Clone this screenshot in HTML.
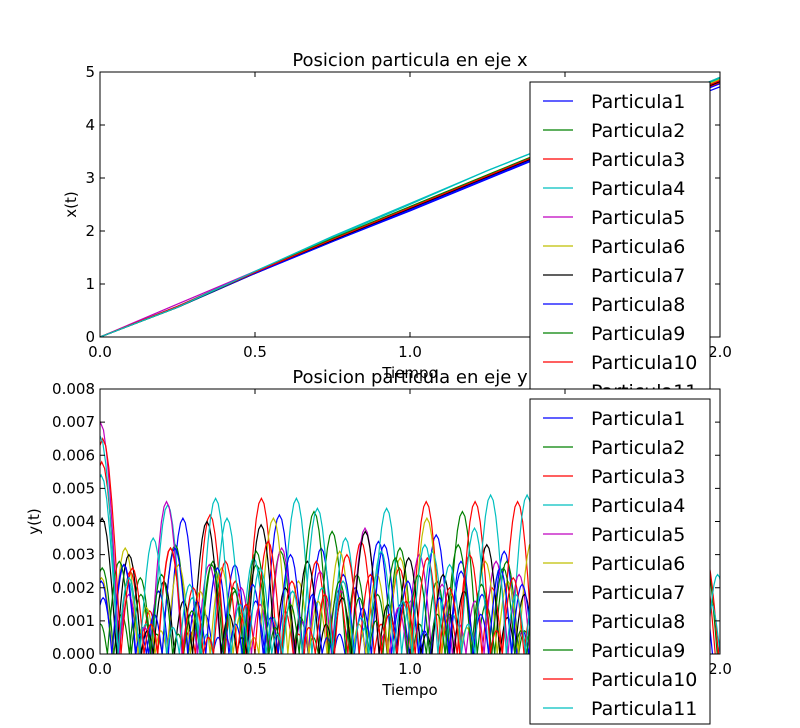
<!DOCTYPE html>
<html><head><meta charset="utf-8">
<style>
body{margin:0;background:#fff;}
svg{display:block;font-family:"DejaVu Sans","Liberation Sans",sans-serif;}
</style></head>
<body>
<svg id="fig" width="800" height="728" viewBox="0 0 800 728">
<rect width="800" height="728" fill="#fff"/>
<defs>
<clipPath id="c1"><rect x="100" y="72" width="620" height="265"/></clipPath>
<clipPath id="c2"><rect x="100" y="389" width="620" height="265"/></clipPath>
</defs>
<g id="top"></g>
<g id="bot"></g>
</svg>
<script>
// ---- data ----
const names=["Particula1","Particula2","Particula3","Particula4","Particula5","Particula6","Particula7","Particula8","Particula9","Particula10","Particula11"];
const colors=["#0000ff","#008000","#ff0000","#00bfbf","#bf00bf","#bfbf00","#000000","#0000ff","#008000","#ff0000","#00bfbf"];
const timesX=[0,0.25,0.5,0.75,1.0,1.25,1.5,1.75,2.0];
const x1=[0,0.58,1.2,1.8,2.38,2.98,3.58,4.16,4.72];
const x2=[0,0.56,1.22,1.84,2.44,3.04,3.64,4.24,4.86];
const x3=[0,0.56,1.2,1.82,2.42,3.02,3.62,4.22,4.8];
const x4=[0,0.58,1.24,1.88,2.5,3.14,3.72,4.3,4.88];
const x5=[0,0.62,1.24,1.84,2.44,3.04,3.64,4.24,4.84];
const x6=[0,0.56,1.22,1.86,2.46,3.06,3.66,4.26,4.86];
const x7=[0,0.56,1.2,1.82,2.42,3.02,3.62,4.22,4.82];
const x8=[0,0.56,1.2,1.8,2.4,3.0,3.6,4.2,4.78];
const x9=[0,0.56,1.22,1.86,2.46,3.06,3.66,4.26,4.9];
const x10=[0,0.58,1.22,1.84,2.44,3.04,3.64,4.24,4.84];
const x11=[0,0.56,1.24,1.9,2.52,3.14,3.72,4.3,4.9];
const seriesX=[x1,x2,x3,x4,x5,x6,x7,x8,x9,x10,x11];
// y: peak heights of consecutive bounces
const y1=[0.0017,0.0027,0.0008,0.0019,0.0041,0.0012,0.0005,0.0027,0.0016,0.0042,0.0010,0.0032,0.0006,0.0020,0.0034,0.0015,0.0009,0.0036,0.0025,0.0018,0.0031,0.0007,0.0024,0.0038,0.0016,0.0031,0.0012,0.0028,0.0046,0.0020];
const y2=[0.0026,0.0012,0.0023,0.0006,0.0033,0.0008,0.0028,0.0019,0.0027,0.0031,0.0011,0.0005,0.0037,0.0024,0.0018,0.0032,0.0009,0.0022,0.0043,0.0015,0.0028,0.0007,0.0033,0.0019,0.0035,0.0025,0.0014,0.0040,0.0022,0.0030];
const y3=[0.0058,0.0025,0.0013,0.0032,0.0007,0.0042,0.0022,0.0047,0.0013,0.0006,0.0028,0.0019,0.0034,0.0009,0.0026,0.0046,0.0012,0.0030,0.0020,0.0046,0.0008,0.0032,0.0025,0.0017,0.0035,0.0010,0.0022,0.0018,0.0029,0.0015];
const y4=[0.0054,0.0022,0.0009,0.0045,0.0017,0.0006,0.0041,0.0029,0.0011,0.0047,0.0020,0.0035,0.0008,0.0044,0.0016,0.0031,0.0012,0.0038,0.0026,0.0048,0.0014,0.0007,0.0025,0.0033,0.0019,0.0027,0.0010,0.0030,0.0015,0.0026];
const y5=[0.0070,0.0018,0.0008,0.0046,0.0012,0.0027,0.0005,0.0020,0.0015,0.0032,0.0010,0.0025,0.0019,0.0038,0.0006,0.0014,0.0030,0.0021,0.0009,0.0016,0.0028,0.0024,0.0011,0.0030,0.0022,0.0007,0.0018,0.0026,0.0013,0.0020];
const y6=[0.0023,0.0032,0.0014,0.0007,0.0027,0.0019,0.0026,0.0012,0.0005,0.0041,0.0022,0.0016,0.0031,0.0009,0.0024,0.0029,0.0041,0.0018,0.0008,0.0028,0.0022,0.0034,0.0015,0.0026,0.0006,0.0029,0.0020,0.0025,0.0017,0.0012];
const y7=[0.0041,0.0030,0.0007,0.0022,0.0016,0.0040,0.0012,0.0005,0.0039,0.0020,0.0028,0.0009,0.0017,0.0037,0.0015,0.0029,0.0006,0.0024,0.0019,0.0033,0.0011,0.0018,0.0026,0.0022,0.0014,0.0025,0.0008,0.0020,0.0027,0.0029];
const y8=[0.0022,0.0027,0.0006,0.0012,0.0032,0.0016,0.0026,0.0009,0.0021,0.0011,0.0030,0.0018,0.0005,0.0024,0.0014,0.0033,0.0022,0.0007,0.0017,0.0028,0.0012,0.0026,0.0021,0.0015,0.0008,0.0028,0.0019,0.0024,0.0016,0.0010];
const y9=[0.0009,0.0028,0.0018,0.0024,0.0006,0.0013,0.0027,0.0020,0.0031,0.0008,0.0015,0.0043,0.0022,0.0017,0.0010,0.0029,0.0024,0.0012,0.0033,0.0021,0.0026,0.0007,0.0018,0.0028,0.0014,0.0023,0.0019,0.0039,0.0011,0.0030];
const y10=[0.0065,0.0026,0.0009,0.0032,0.0020,0.0005,0.0028,0.0015,0.0034,0.0022,0.0008,0.0018,0.0030,0.0024,0.0012,0.0016,0.0029,0.0020,0.0046,0.0007,0.0023,0.0015,0.0027,0.0021,0.0046,0.0010,0.0019,0.0024,0.0017,0.0028];
const y11=[0.0066,0.0023,0.0035,0.0008,0.0021,0.0047,0.0015,0.0026,0.0006,0.0019,0.0044,0.0022,0.0011,0.0031,0.0016,0.0033,0.0027,0.0009,0.0048,0.0018,0.0025,0.0013,0.0021,0.0029,0.0016,0.0024,0.0031,0.0007,0.0019,0.0024];
const seriesY=[y1,y2,y3,y4,y5,y6,y7,y8,y9,y10,y11];
const startT=[-0.02,-0.03,-0.05,-0.05,-0.06,-0.03,-0.04,-0.03,-0.02,-0.05,-0.06];
const xTicks=["0.0","0.5","1.0","1.5","2.0"];
const topYTicks=["0","1","2","3","4","5"];
const botYTicks=["0.000","0.001","0.002","0.003","0.004","0.005","0.006","0.007","0.008"];

// ---- helpers ----
const NS="http://www.w3.org/2000/svg";
function mk(tag,attrs,parent){const e=document.createElementNS(NS,tag);for(const k in attrs)e.setAttribute(k,attrs[k]);parent.appendChild(e);return e;}
const L=100,R=720,W=620,H=265;
const sx=t=>L+t/2*W;

function axes(g,top,ymax,title,ylabel,clipId,ylx){
  const sy=v=>top+H-v/ymax*H;
  const bg=mk("rect",{x:L,y:top,width:W,height:H,fill:"#fff"},g);
  
  
  const t=mk("text",{x:410,y:top-6,"text-anchor":"middle","font-size":18},g);t.textContent=title;
  
  
  const xl=mk("text",{x:410,y:top+H+41,"text-anchor":"middle","font-size":15},g);xl.textContent="Tiempo";
  
  
  const yl=mk("text",{x:0,y:0,"text-anchor":"middle","font-size":15,transform:`translate(${ylx},${top+H/2}) rotate(-90)`},g);yl.textContent=ylabel;
  
  
  const plot=mk("g",{"clip-path":`url(#${clipId})`},g);
  return {sy,plot};
}
function frame(g,top,ymax,yTicks){
  const sy=v=>top+H-v/ymax*H;
  xTicks.forEach(s=>{const v=parseFloat(s);const x=sx(v);
    mk("line",{x1:x,x2:x,y1:top+H,y2:top+H-5,stroke:"#000"},g);
    mk("line",{x1:x,x2:x,y1:top,y2:top+5,stroke:"#000"},g);
    const tx=mk("text",{x:x,y:top+H+20,"text-anchor":"middle","font-size":15},g);tx.textContent=s;
    
    
  });
  yTicks.forEach(s=>{const v=parseFloat(s);const y=sy(v);
    mk("line",{x1:L,x2:L+5,y1:y,y2:y,stroke:"#000"},g);
    mk("line",{x1:R,x2:R-5,y1:y,y2:y,stroke:"#000"},g);
    const ty=mk("text",{x:L-5,y:y+5,"text-anchor":"end","font-size":15},g);ty.textContent=s;
    
    
  });
  const f=mk("rect",{x:L,y:top,width:W,height:H,fill:"none",stroke:"#000","stroke-width":1},g);
  
  
}
function legend(g,top){
  const lg=mk("g",{},g);
  
  
  mk("rect",{x:530,y:top,width:180,height:325,fill:"#fff",stroke:"#000"},lg);
  names.forEach((n,i)=>{const y=top+19+i*29;
    const e=mk("g",{},lg);
    
    
    mk("line",{x1:543,x2:573,y1:y,y2:y,stroke:colors[i],"stroke-width":1.2},e);
    const t=mk("text",{x:591,y:y+7,"font-size":19},e);t.textContent=n;
  });
}

// ---- top chart ----
const gt=document.getElementById("top");
const A=axes(gt,72,5,"Posicion particula en eje x","x(t)","c1",76);
seriesX.forEach((s,i)=>{
  const d=s.map((v,j)=>(j?"L":"M")+sx(timesX[j]).toFixed(1)+","+A.sy(v).toFixed(1)).join("");
  const p=mk("path",{d:d,fill:"none",stroke:colors[i],"stroke-width":1.2},A.plot);
  
  
});
frame(gt,72,5,topYTicks);
legend(gt,82);

// ---- bottom chart ----
const gb=document.getElementById("bot");
const B=axes(gb,389,0.008,"Posicion particula en eje y","y(t)","c2",39);
seriesY.forEach((s,i)=>{
  let t0=startT[i];
  let d="";
  s.forEach((pk,k)=>{
    // bounce duration grows with sqrt of height
    const w=0.1*Math.sqrt(pk/0.0047);
    for(let j=0;j<=12;j++){
      const t=t0+w*j/12;
      const v=pk*Math.sin(Math.PI*j/12);
      d+=(d?"L":"M")+sx(t).toFixed(1)+","+B.sy(v).toFixed(1);
    }
    t0+=w;
  });
  const p=mk("path",{d:d,fill:"none",stroke:colors[i],"stroke-width":1.2},B.plot);
  
  
});
frame(gb,389,0.008,botYTicks);
legend(gb,399);
</script>
</body></html>
